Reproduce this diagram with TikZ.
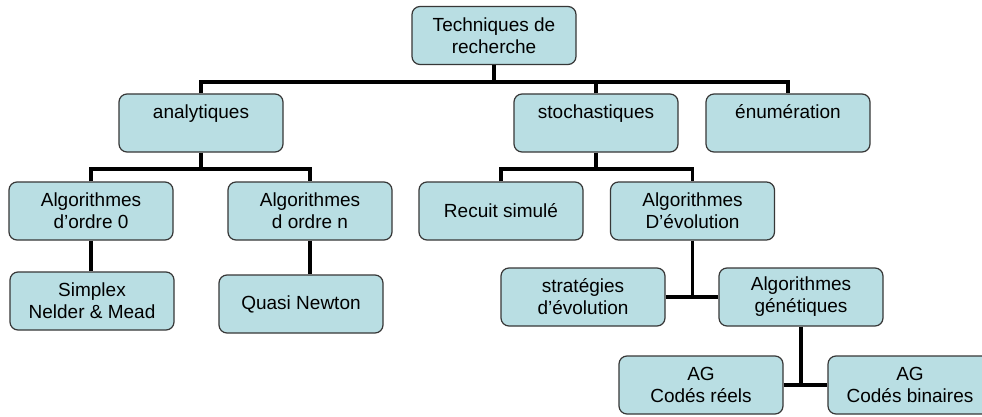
\documentclass[tikz,border=0pt]{standalone}
\usepackage{fontspec}
\setmainfont{Liberation Sans}
\definecolor{boxfill}{RGB}{185,222,227}
\definecolor{boxline}{RGB}{55,55,55}
\begin{document}
\begin{tikzpicture}[x=1pt,y=-1pt,
  box/.style={draw=boxline, line width=1.2pt, fill=boxfill, rounded corners=8pt,
    minimum width=164pt, minimum height=58pt, inner sep=0pt, align=center,
    font=\fontsize{19}{22}\selectfont},
  conn/.style={line width=3.2pt, draw=black, line join=miter}]
\useasboundingbox (0,0) rectangle (982,417);
\clip (0,0) rectangle (982,417);
\fill[white] (0,0) rectangle (982,417);
\coordinate (b1) at (0,82);
\coordinate (b2) at (0,169);
% nodes
\node[box] (top) at (494,35.5) {Techniques de\\recherche};
\node[box] (ana) at (201,123) {analytiques\\\mbox{}};
\node[box] (sto) at (596,123) {stochastiques\\\mbox{}};
\node[box] (enu) at (788,123) {énumération\\\mbox{}};
\node[box] (a0) at (91,211) {Algorithmes\\d’ordre 0};
\node[box] (an) at (310,211) {Algorithmes\\d ordre n};
\node[box] (rec) at (501,211) {Recuit simulé};
\node[box] (aevo) at (692.5,211) {Algorithmes\\D’évolution};
\node[box] (simp) at (92,301) {Simplex\\Nelder \& Mead};
\node[box] (qn) at (301,304) {Quasi Newton};
\node[box] (strat) at (583,297) {stratégies\\d’évolution};
\node[box] (ag) at (801,297) {Algorithmes\\génétiques};
\node[box] (agr) at (701,385) {AG\\Codés réels};
\node[box] (agb) at (910,385) {AG\\Codés binaires};
% connectors
\draw[conn] (top.south) -- (top.south |- b1);
\draw[conn] (ana.north) -- (ana.north |- b1) -- (enu.north |- b1) -- (enu.north);
\draw[conn] (sto.north) -- (sto.north |- b1);
\draw[conn] (ana.south) -- (ana.south |- b2);
\draw[conn] (a0.north) -- (a0.north |- b2) -- (an.north |- b2) -- (an.north);
\draw[conn] (sto.south) -- (sto.south |- b2);
\draw[conn] (rec.north) -- (rec.north |- b2) -- (aevo.north |- b2) -- (aevo.north);
\draw[conn] (a0.south) -- (a0.south |- simp.north);
\draw[conn] (an.south) -- (an.south |- qn.north);
\draw[conn] (aevo.south) -- (aevo.south |- strat.east);
\draw[conn] (strat.east) -- (ag.west);
\draw[conn] (ag.south) -- (ag.south |- agr.east);
\draw[conn] (agr.east) -- (agb.west);
\end{tikzpicture}
\end{document}
